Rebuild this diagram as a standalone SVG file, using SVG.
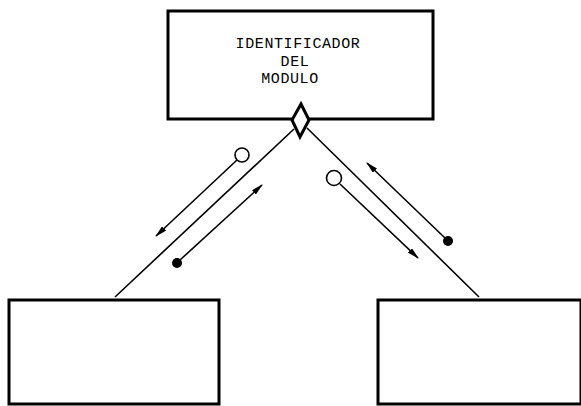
<svg xmlns="http://www.w3.org/2000/svg" width="581" height="406" viewBox="0 0 581 406">
<style>
.box{fill:none;stroke:#000;stroke-width:3}
.ln{stroke:#000;stroke-width:1.6;fill:none}
.arr{stroke:#000;stroke-width:1.6;fill:none;marker-end:url(#ah)}
.txt{font-family:"Liberation Mono",monospace;font-size:15px;fill:#000;text-anchor:middle;letter-spacing:0.6px}
</style>
<defs>
<marker id="ah" viewBox="0 0 12 6" refX="11" refY="3" markerWidth="12" markerHeight="6" markerUnits="userSpaceOnUse" orient="auto">
<path d="M0,0 L12,3 L0,6 Z" fill="#000"/>
</marker>
</defs>
<rect width="581" height="406" fill="#fff"/>
<g id="connectors">
<line class="ln" x1="294" y1="129" x2="115" y2="297"/>
<line class="ln" x1="307" y1="128" x2="479" y2="297"/>
<line class="arr" x1="237" y1="160" x2="156" y2="236"/>
<line class="arr" x1="180" y1="260" x2="262" y2="185"/>
<line class="arr" x1="340" y1="184" x2="418" y2="258"/>
<line class="arr" x1="445" y1="238" x2="367" y2="163"/>
<circle cx="242" cy="155" r="7" fill="#fff" stroke="#000" stroke-width="1.6"/>
<circle cx="177" cy="263" r="5" fill="#000"/>
<circle cx="334" cy="178" r="7.5" fill="#fff" stroke="#000" stroke-width="1.6"/>
<circle cx="448" cy="241" r="5" fill="#000"/>
</g>
<g id="modulo">
<rect class="box" x="168" y="11" width="265" height="108"/>
<text class="txt" x="298" y="48">IDENTIFICADOR</text>
<text class="txt" x="295" y="66">DEL</text>
<text class="txt" x="290" y="83">MODULO</text>
<path d="M301,104 L309,120 L300,137 L292,120 Z" fill="#fff" stroke="#000" stroke-width="3" stroke-linejoin="miter"/>
</g>
<g id="sub1">
<rect class="box" x="9" y="300" width="210" height="104"/>
</g>
<g id="sub2">
<rect class="box" x="378" y="300" width="203" height="104"/>
</g>
</svg>
